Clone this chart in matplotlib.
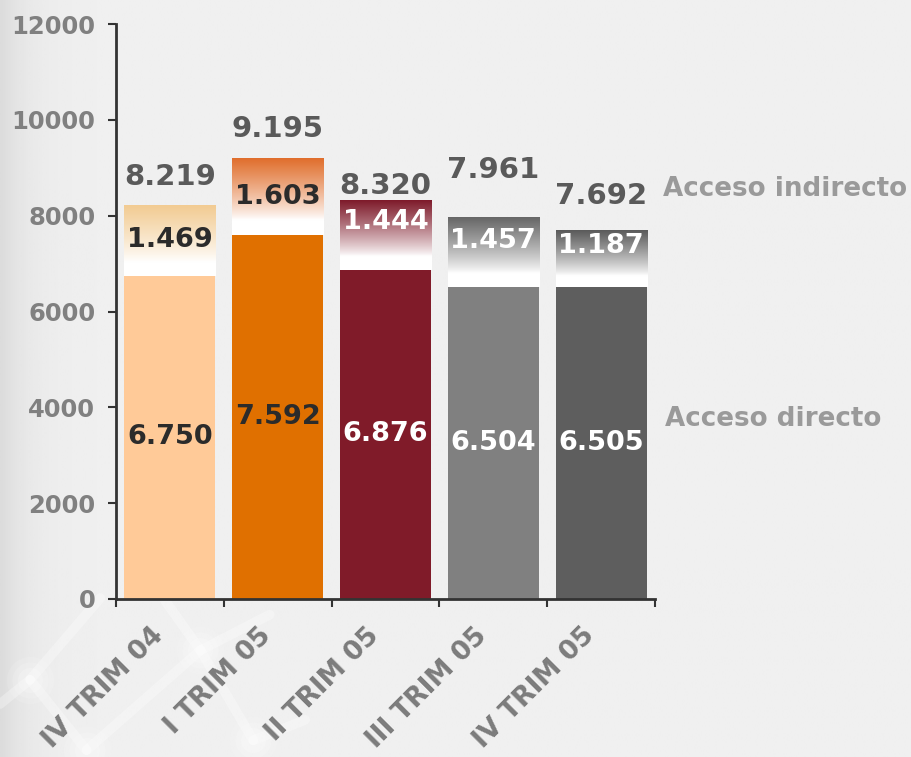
import numpy as np
import matplotlib
matplotlib.use("Agg")
import matplotlib.pyplot as plt
from matplotlib.colors import to_rgb

# data
quarters = ["IV TRIM 04", "I TRIM 05", "II TRIM 05", "III TRIM 05", "IV TRIM 05"]
directo = [6750, 7592, 6876, 6504, 6505]
indirecto = [1469, 1603, 1444, 1457, 1187]
totales = [8219, 9195, 8320, 7961, 7692]
yticks = [0, 2000, 4000, 6000, 8000, 10000, 12000]

bar_colors = ["#FFCA98", "#E07000", "#801B29", "#808080", "#5E5E5E"]
top_colors = ["#F2CB92", "#E06E2C", "#7E1A2A", "#666666", "#5A5A5A"]
text_dark = ["#2B2B2B", "#2B2B2B", "white", "white", "white"]
# label nudges in points, as placed by hand in the original
total_dy = [20, 21, 10, 34, 25]
top_dy = [0, 0, 9, 8, 9]


def fmt(v):
    return f"{v:,}".replace(",", ".")


def gradient(color, n=400):
    t = np.linspace(0, 1, n)
    a = np.clip((t - 0.2) / 0.8, 0, 1) ** 0.85
    c = np.array(to_rgb(color))
    rgb = (1 - a)[:, None] * 1.0 + a[:, None] * c[None, :]
    return np.repeat(rgb[:, None, :], 4, axis=1)


W, H = 911, 757
fig = plt.figure(figsize=(W / 100, H / 100), dpi=100, facecolor="#F0F0F0")

# slide background: darker band on the left, faint network drawing
bg = fig.add_axes([0, 0, 1, 1], zorder=-10)
bg.set_axis_off()
xs = np.linspace(0, 1, 400)
shade = 0.94 - 0.08 * np.exp(-xs / 0.03)
bg.imshow(np.tile(shade, (2, 1)), cmap="gray", vmin=0, vmax=1,
          extent=[0, 1, 0, 1], aspect="auto", interpolation="bilinear")
nodes = {"a": (0.033, 0.102), "b": (0.220, 0.141), "c": (0.095, 0.009),
         "d": (0.278, 0.022)}
links = [("a", (0.110, 0.21)), ("a", (0.0, 0.07)), ("a", "c"), ("c", "b"),
         ("b", (0.181, 0.207)), ("b", (0.296, 0.188)), ("b", "d"),
         ("d", (0.335, 0.049))]
for p, q in links:
    p = nodes[p] if isinstance(p, str) else p
    q = nodes[q] if isinstance(q, str) else q
    bg.plot([p[0], q[0]], [p[1], q[1]], color="white", lw=7, alpha=0.3,
            solid_capstyle="round")
for p in nodes.values():
    for ms, al in [(34, 0.12), (26, 0.15), (18, 0.2)]:
        bg.plot(*p, marker="o", ms=ms, color="white", alpha=al, mew=0)
bg.set_xlim(0, 1)
bg.set_ylim(0, 1)

ax = fig.add_axes([116 / W, 1 - 599 / H, (655 - 116) / W, (599 - 24) / H])
ax.set_facecolor("none")

x = np.arange(len(quarters)) + 0.5
width = 0.845
ax.bar(x, directo, width, color=bar_colors, zorder=2)
for i in range(len(quarters)):
    ax.imshow(gradient(top_colors[i]), origin="lower", aspect="auto",
              interpolation="bilinear",
              extent=[x[i] - width / 2, x[i] + width / 2,
                      directo[i], directo[i] + indirecto[i]], zorder=2)

    ax.text(x[i], directo[i] / 2, fmt(directo[i]), ha="center", va="center",
            fontsize=19.5, fontweight="bold", color=text_dark[i], zorder=3)
    ax.annotate(fmt(indirecto[i]), (x[i], directo[i] + indirecto[i] / 2),
                xytext=(0, top_dy[i]), textcoords="offset points",
                ha="center", va="center", fontsize=19.5, fontweight="bold",
                color=text_dark[i], zorder=3)
    ax.annotate(fmt(totales[i]), (x[i], totales[i]),
                xytext=(0, total_dy[i]), textcoords="offset points",
                ha="center", va="center", fontsize=21, fontweight="bold",
                color="#5A5A5A", zorder=3, annotation_clip=False)
    # category label, slanted and set a little left of the bar centre
    ax.annotate(quarters[i], (x[i], 0), xycoords=ax.get_xaxis_transform(),
                xytext=(-14, -17), textcoords="offset points", rotation=45,
                rotation_mode="anchor", ha="right", va="top", fontsize=19,
                fontweight="bold", color="#7C7C7C", annotation_clip=False)

ax.set_xlim(0, len(quarters))
ax.set_ylim(0, 12000)

ax.set_yticks(yticks)
ax.set_yticklabels([str(v) for v in yticks])
ax.tick_params(axis="y", direction="out", length=6, width=1.5,
               color="#333333", pad=9, labelsize=17.5, labelcolor="#808080")
for lab in ax.get_yticklabels():
    lab.set_fontweight("bold")

ax.set_xticks(np.arange(len(quarters) + 1))
ax.set_xticklabels([])
ax.tick_params(axis="x", direction="out", length=6, width=1.5,
               color="#333333")

for side in ["top", "right"]:
    ax.spines[side].set_visible(False)
for side in ["left", "bottom"]:
    ax.spines[side].set_color("#333333")
    ax.spines[side].set_linewidth(2)

fig.text(663 / W, 1 - 189 / H, "Acceso indirecto", ha="left", va="center",
         fontsize=18.8, fontweight="bold", color="#9A9A9A")
fig.text(665 / W, 1 - 419 / H, "Acceso directo", ha="left", va="center",
         fontsize=18.8, fontweight="bold", color="#9A9A9A")

fig.savefig("out.png", dpi=100, facecolor=fig.get_facecolor())
